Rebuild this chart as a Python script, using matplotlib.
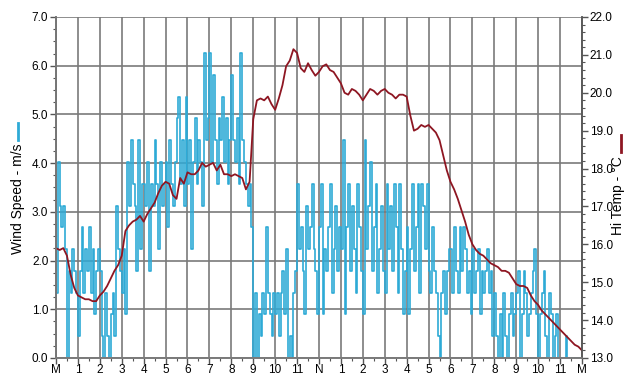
import numpy as np
import matplotlib.pyplot as plt
from matplotlib.lines import Line2D
from matplotlib.ticker import MultipleLocator

plt.rcParams['font.family'] = ['Liberation Sans', 'DejaVu Sans']

# Wind speed, one reading every 5 minutes, logged in whole mph (one row per hour)
wind_mph = [
    3, 9, 7, 6, 7, 5, 0, 4, 3, 5, 4, 3,
    1, 4, 6, 3, 5, 4, 6, 3, 5, 2, 4, 5,
    4, 1, 0, 3, 1, 0, 2, 3, 1, 7, 5, 4,
    3, 5, 2, 9, 7, 10, 8, 7, 4, 10, 5, 8,
    8, 7, 9, 4, 8, 7, 10, 8, 5, 9, 7, 8,
    9, 6, 10, 8, 7, 9, 11, 12, 8, 10, 7, 12,
    8, 10, 5, 9, 11, 8, 10, 9, 7, 14, 10, 11,
    14, 9, 13, 10, 8, 11, 10, 12, 9, 11, 8, 10,
    13, 10, 9, 11, 8, 14, 10, 9, 8, 7, 8, 6,
    0, 3, 0, 2, 1, 3, 2, 6, 3, 2, 1, 3,
    2, 3, 1, 3, 4, 2, 5, 0, 1, 0, 3, 4,
    8, 5, 6, 4, 2, 7, 5, 6, 8, 5, 4, 2,
    6, 8, 2, 5, 4, 6, 8, 3, 5, 7, 4, 6,
    5, 10, 2, 6, 8, 4, 7, 5, 3, 8, 6, 4,
    2, 10, 5, 7, 9, 4, 6, 8, 3, 5, 7, 4,
    3, 8, 5, 7, 4, 8, 6, 3, 8, 5, 2, 4,
    6, 2, 5, 8, 4, 6, 8, 3, 8, 7, 5, 8,
    4, 3, 6, 4, 3, 1, 0, 3, 4, 2, 4, 5,
    5, 3, 6, 4, 3, 6, 4, 6, 5, 3, 4, 2,
    5, 3, 4, 5, 2, 4, 3, 4, 5, 3, 4, 1,
    3, 1, 0, 2, 0, 3, 1, 0, 2, 3, 1, 2,
    3, 4, 0, 2, 4, 3, 1, 2, 3, 4, 5, 2,
    0, 2, 3, 4, 1, 0, 3, 2, 0, 1, 2, 0,
    0, 0, 0, 1, 0, 0, 0, 0, 0, 0, 0, 0,
]

# Hi temperature (deg C), one reading every 10 minutes, midnight to midnight
hi_temp = [
    15.9, 15.85, 15.9, 15.7, 15.2, 14.85,
    14.65, 14.6, 14.55, 14.55, 14.5, 14.5,
    14.65, 14.75, 14.9, 15.1, 15.3, 15.45,
    15.7, 16.35, 16.5, 16.6, 16.65, 16.75,
    16.6, 16.8, 16.95, 17.1, 17.35, 17.55,
    17.65, 17.6, 17.3, 17.2, 17.75, 17.6,
    17.9, 17.85, 17.85, 17.95, 18.15, 18.05,
    18.1, 18.15, 17.95, 18.1, 17.85, 17.85,
    17.8, 17.85, 17.8, 17.75, 17.45, 17.65,
    19.3, 19.8, 19.85, 19.8, 19.9, 19.7,
    19.55, 19.85, 20.2, 20.7, 20.85, 21.15,
    21.05, 20.65, 20.55, 20.78, 20.6, 20.45,
    20.55, 20.7, 20.75, 20.6, 20.55, 20.4,
    20.25, 20.0, 19.95, 20.1, 20.05, 19.95,
    19.8, 19.95, 20.1, 20.05, 19.95, 20.05,
    20.1, 20.0, 19.95, 19.85, 19.95, 19.95,
    19.9, 19.4, 19.0, 19.05, 19.15, 19.1,
    19.15, 19.05, 18.95, 18.75, 18.35, 17.95,
    17.65, 17.45, 17.2, 16.9, 16.6, 16.25,
    16.0, 15.85, 15.75, 15.7, 15.6, 15.5,
    15.45, 15.4, 15.3, 15.3, 15.25, 15.1,
    14.95, 14.9, 14.9, 14.85, 14.65, 14.5,
    14.4, 14.25, 14.15, 14.05, 13.95, 13.85,
    13.75, 13.65, 13.55, 13.45, 13.35, 13.3,
    13.2,
]

hour_labels = ['M', '1', '2', '3', '4', '5', '6', '7', '8', '9', '10', '11',
               'N', '1', '2', '3', '4', '5', '6', '7', '8', '9', '10', '11', 'M']

wind_color = '#2eaad6'
temp_color = '#8e1622'
grid_color = '#7a7a7a'

# hours since midnight for each reading
wind_t = np.arange(len(wind_mph)) / 12
wind_ms = np.array(wind_mph) * 0.44704
temp_t = np.arange(len(hi_temp)) / 6

fig = plt.figure(figsize=(6.27, 3.76), dpi=100)
ax = fig.add_axes([0.0893, 0.0479, 0.8389, 0.9069])
ax2 = ax.twinx()

ax.plot(wind_t, wind_ms, drawstyle='steps-post', color=wind_color, lw=1.2)
ax2.plot(temp_t, hi_temp, color=temp_color, lw=1.3)

ax.set_xlim(0, 24)
ax.set_ylim(0, 7)
ax2.set_ylim(13, 22)

ax.set_xticks(range(25))
ax.set_xticklabels(hour_labels)
ax.xaxis.set_minor_locator(MultipleLocator(0.5))
ax.set_yticks(np.arange(0, 7.1, 1))
ax.set_yticklabels([f'{v:.1f}' for v in np.arange(0, 7.1, 1)])
ax.yaxis.set_minor_locator(MultipleLocator(0.25))
ax2.set_yticks(np.arange(13, 22.1, 1))
ax2.set_yticklabels([f'{v:.1f}' for v in np.arange(13, 22.1, 1)])
ax2.yaxis.set_minor_locator(MultipleLocator(0.2))

ax.grid(True, which='major', color=grid_color, lw=1.2)
ax.set_axisbelow(True)

for a in (ax, ax2):
    for s in a.spines.values():
        s.set_color(grid_color)
        s.set_linewidth(1.2)
    a.tick_params(which='major', length=4, width=1, color='#555555', labelsize=8.5, pad=1.5)
    a.tick_params(which='minor', length=2.5, width=0.8, color='#555555')
ax.tick_params(axis='x', which='major', pad=0.5)
ax.spines['top'].set_visible(False)
ax2.spines['top'].set_visible(False)
ax.spines['left'].set_color('#555555')
ax2.spines['right'].set_color('#555555')

# axis titles with a short coloured key mark after the text
fig.text(0.029, 0.471, 'Wind Speed - m/s', rotation=90, ha='center', va='center', fontsize=10)
fig.add_artist(Line2D([0.028, 0.028], [0.628, 0.672], color=wind_color, lw=2))
fig.text(0.985, 0.48, 'Hi Temp - \u00b0C', rotation=90, ha='center', va='center', fontsize=10)
fig.add_artist(Line2D([0.991, 0.991], [0.596, 0.64], color=temp_color, lw=2))

fig.savefig('out.png', dpi=100)
